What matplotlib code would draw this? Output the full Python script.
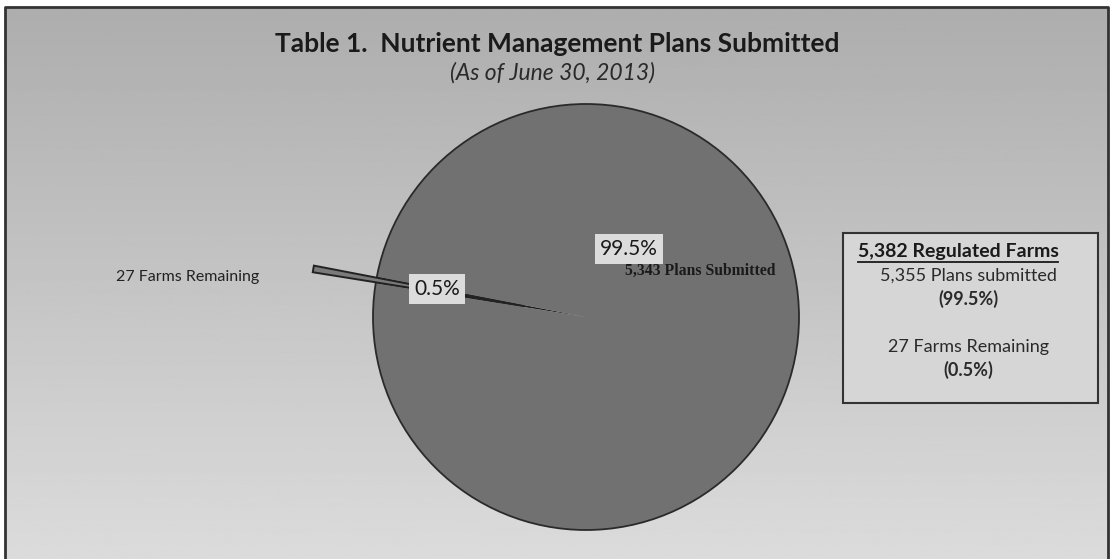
import numpy as np
import matplotlib.pyplot as plt
from matplotlib.patches import Rectangle

# Plan counts used for the pie
slice_labels = ['27 Farms Remaining', '5,343 Plans Submitted']
slice_values = [27, 5355]
slice_pcts = ['0.5%', '99.5%']

title = 'Table 1.  Nutrient Management Plans Submitted'
subtitle = '(As of June 30, 2013)'

summary_head = '5,382 Regulated Farms'
summary_lines = [('5,355 Plans submitted', 'normal'), ('(99.5%)', 'bold'),
                 ('27 Farms Remaining', 'normal'), ('(0.5%)', 'bold')]

W, H = 1113, 559
plt.rcParams['font.family'] = ['Lato', 'DejaVu Sans']

fig = plt.figure(figsize=(W / 100, H / 100), dpi=100)
ax = fig.add_axes([0, 0, 1, 1])


def Y(y):
    # pixel row (from top) to data y
    return H - y


# page background: white strip above the frame, grey gradient inside
fig.patch.set_facecolor('white')
grad = np.linspace(0.68, 0.86, 256)[:, None]
ax.imshow(grad, cmap='gray', vmin=0, vmax=1, aspect='auto',
          extent=(5, 1108, Y(559), Y(7)), zorder=0)
ax.plot([5, 5, 1108, 1108], [Y(559), Y(7), Y(7), Y(559)], color='#333333', lw=2, zorder=1)

# pie: base layer keeps the dark slot where the small slice was pulled out
cx, cy, r = 586, Y(317), 213
start = 170 - 360 * slice_values[0] / sum(slice_values) / 2
ax.pie(slice_values, center=(cx, cy), radius=r, startangle=start,
       colors=['#1e1e1e', '#717171'], wedgeprops=dict(linewidth=0))
ax.add_patch(plt.Circle((cx, cy), r, fill=False, ec='#2a2a2a', lw=1.3, zorder=1.5))
wedges, _ = ax.pie(slice_values, center=(cx, cy), radius=r, startangle=start,
                   explode=[0.3 * r, 0], colors=['#7a7a7a', '#717171'],
                   wedgeprops=dict(edgecolor='#222222', linewidth=1.4, zorder=1.6))
wedges[1].set_visible(False)

ax.set_xlim(0, W)
ax.set_ylim(0, H)
ax.set_aspect('auto')
ax.axis('off')

# titles
ax.text(557, Y(44), title, ha='center', va='center', fontsize=19, fontweight='bold',
        color='#1a1a1a')
ax.text(552, Y(73), subtitle, ha='center', va='center', fontsize=16.5, fontstyle='italic',
        color='#2a2a2a')

# data labels on the pie
box = dict(boxstyle='square,pad=0.25', fc='#dcdcdc', ec='none')
ax.text(629, Y(249), slice_pcts[1], ha='center', va='center', fontsize=15,
        color='#1a1a1a', bbox=box, zorder=3)
ax.text(437, Y(289), slice_pcts[0], ha='center', va='center', fontsize=15,
        color='#1a1a1a', bbox=box, zorder=3)
ax.text(625, Y(271), slice_labels[1], ha='left', va='center', fontsize=11.3,
        family='Liberation Serif', fontweight='bold', color='#1a1a1a', zorder=3)
ax.text(188, Y(277), slice_labels[0], ha='center', va='center', fontsize=11.5,
        color='#222222')

# summary box on the right
ax.add_patch(Rectangle((843, Y(403)), 255, 170, fc='#d6d6d6', ec='#333333', lw=1.5, zorder=2))
head = ax.text(958, Y(252), summary_head, ha='center', va='center', fontsize=14,
               fontweight='bold', color='#1a1a1a', zorder=3)
for (txt, wt), yy in zip(summary_lines, [276, 299, 347, 370]):
    ax.text(968, Y(yy), txt, ha='center', va='center', fontsize=13, fontweight=wt,
            color='#2a2a2a', zorder=3)

# underline the box heading
fig.canvas.draw()
bb = head.get_window_extent().transformed(ax.transData.inverted())
ax.plot([bb.x0, bb.x1], [bb.y0 - 1, bb.y0 - 1], color='#1a1a1a', lw=1.3, zorder=3)

fig.savefig('out.png', dpi=100)
